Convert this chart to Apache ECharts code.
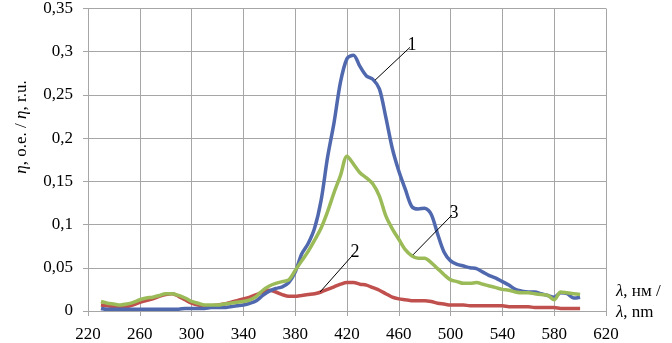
<!DOCTYPE html>
<html>
<head>
<meta charset="utf-8">
<script src="https://cdn.jsdelivr.net/npm/echarts@6/dist/echarts.min.js"></script>
<style>
  html, body { margin: 0; padding: 0; background: #fff; }
  #main { width: 672px; height: 343px; }
</style>
</head>
<body>
<div id="main"></div>
<script>
// wavelength, nm
const wavelength = [
  230, 235, 240, 245, 250, 255, 260, 265, 270, 275, 280, 285, 290, 295, 300,
  305, 310, 315, 320, 325, 330, 335, 340, 345, 350, 355, 360, 365, 370, 375,
  380, 385, 390, 395, 400, 405, 410, 415, 420, 425, 430, 435, 440, 445, 450,
  455, 460, 465, 470, 475, 480, 485, 490, 495, 500, 505, 510, 515, 520, 525,
  530, 535, 540, 545, 550, 555, 560, 565, 570, 575, 580, 585, 590, 595, 600
];
// curve 1 (blue)
const eta1 = [
  .003, .002, .002, .002, .002, .002, .002, .002, .002, .002, .002, .002, .002, .003, .003,
  .003, .003, .004, .004, .004, .005, .006, .007, .009, .012, .018, .023, .026, .028, .033,
  .045, .066, .078, .096, .128, .178, .218, .265, .292, .296, .283, .272, .268, .257, .224,
  .188, .162, .141, .121, .118, .119, .112, .089, .068, .058, .054, .052, .050, .049, .045,
  .041, .038, .034, .030, .025, .023, .022, .022, .020, .018, .016, .021, .020, .015, .016
];
// curve 2 (red)
const eta2 = [
  .007, .006, .005, .004, .005, .007, .010, .012, .014, .017, .019, .020, .017, .013, .009,
  .007, .006, .006, .007, .008, .010, .012, .014, .016, .019, .022, .024, .022, .019, .017,
  .017, .018, .019, .020, .022, .025, .028, .031, .033, .033, .031, .030, .027, .024, .020,
  .016, .014, .013, .012, .012, .012, .011, .009, .008, .007, .007, .007, .006, .006, .006,
  .006, .006, .006, .005, .005, .005, .005, .004, .004, .004, .004, .003, .003, .003, .003
];
// curve 3 (green)
const eta3 = [
  .011, .009, .008, .007, .008, .010, .013, .015, .016, .018, .020, .020, .018, .015, .011,
  .009, .007, .007, .007, .008, .009, .010, .011, .013, .017, .024, .029, .032, .034, .036,
  .047, .058, .069, .082, .096, .115, .137, .157, .179, .170, .160, .154, .147, .133, .110,
  .095, .083, .071, .064, .061, .061, .056, .049, .042, .036, .034, .032, .032, .033, .031,
  .029, .027, .025, .024, .022, .021, .021, .020, .019, .018, .013, .022, .021, .020, .019
];
// leader lines: [from, to] in data units, label at the end
const leaders = [
  { label: '1', from: [441.6, 0.267], to: [468.6, 0.305] },
  { label: '2', from: [399.2, 0.022], to: [424.6, 0.065] },
  { label: '3', from: [471, 0.065], to: [501, 0.111] }
];

const FONT = '"Liberation Serif", "Times New Roman", serif';
const gridGray = '#a6a6a6';

const pairs = (ys) => wavelength.map((w, i) => [w, ys[i]]);

const makeLeader = (l) => [
  { coord: l.from },
  { coord: l.to, label: { formatter: l.label } }
];

const chart = echarts.init(document.getElementById('main'));
chart.setOption({
  animation: false,
  backgroundColor: '#fff',
  grid: { left: 88, right: 66, top: 8, bottom: 32, containLabel: false },
  xAxis: {
    type: 'value',
    min: 220, max: 620, interval: 40,
    axisLine: { show: true, lineStyle: { color: gridGray, width: 1 } },
    axisTick: { show: true, length: 5, lineStyle: { color: gridGray } },
    axisLabel: { color: '#000', fontFamily: FONT, fontSize: 17, margin: 15 },
    splitLine: { show: true, lineStyle: { color: gridGray, width: 1 } }
  },
  yAxis: {
    type: 'value',
    min: 0, max: 0.35, interval: 0.05,
    axisLine: { show: true, lineStyle: { color: gridGray, width: 1 } },
    axisTick: { show: true, length: 5, lineStyle: { color: gridGray } },
    axisLabel: {
      color: '#000', fontFamily: FONT, fontSize: 17, margin: 15,
      formatter: v => String(+v.toFixed(2)).replace('.', ',')
    },
    splitLine: { show: true, lineStyle: { color: gridGray, width: 1 } }
  },
  series: [
    {
      name: '1', type: 'line', data: pairs(eta1), smooth: 0.3, showSymbol: false,
      lineStyle: { color: '#5068ae', width: 3.5 },
      z: 3,
      markLine: {
        silent: true, symbol: 'none', animation: false,
        lineStyle: { color: '#000', width: 1, type: 'solid' },
        label: { show: true, position: 'end', color: '#000', fontFamily: FONT, fontSize: 18, distance: 3 },
        data: leaders.map(makeLeader)
      }
    },
    {
      name: '2', type: 'line', data: pairs(eta2), smooth: 0.3, showSymbol: false,
      lineStyle: { color: '#c0504d', width: 3.5 },
      z: 2
    },
    {
      name: '3', type: 'line', data: pairs(eta3), smooth: 0.3, showSymbol: false,
      lineStyle: { color: '#9bbb59', width: 3.5 },
      z: 4
    }
  ],
  graphic: [
    {
      type: 'text', x: 22, y: 127, rotation: Math.PI / 2,
      style: {
        text: '{i|η}, o.e. / {i|η}, r.u.',
        fontFamily: FONT, fontSize: 17, fill: '#000',
        align: 'center', verticalAlign: 'middle',
        rich: { i: { fontStyle: 'italic', fontFamily: FONT, fontSize: 17 } }
      }
    },
    {
      type: 'text', x: 616, y: 281,
      style: {
        text: '{i|λ}, нм /\n{i|λ}, nm',
        fontFamily: FONT, fontSize: 17, fill: '#000', lineHeight: 21,
        rich: { i: { fontStyle: 'italic', fontFamily: FONT, fontSize: 17, lineHeight: 21 } }
      }
    }
  ]
});
</script>
</body>
</html>
